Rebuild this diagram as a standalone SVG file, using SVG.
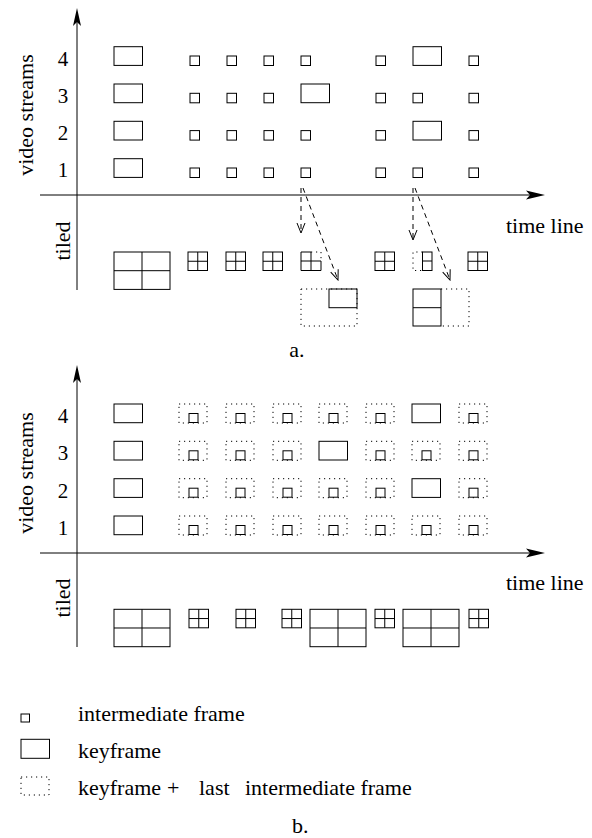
<svg xmlns="http://www.w3.org/2000/svg" width="592" height="838" viewBox="0 0 592 838">
<style>
.f{fill:none;stroke:#000;stroke-width:1}
.d{fill:none;stroke:#000;stroke-width:1;stroke-dasharray:1.2 3.8}
.ax{fill:none;stroke:#000;stroke-width:1}
.da{fill:none;stroke:#000;stroke-width:1;stroke-dasharray:5 4}
text{font-family:'Liberation Serif','DejaVu Serif',serif;font-size:22px;fill:#000}
.n{text-anchor:middle;font-size:21px}
</style>
<defs>
<marker id="ah" viewBox="0 0 12 10" refX="11" refY="5" markerWidth="12" markerHeight="10" markerUnits="userSpaceOnUse" orient="auto">
<path d="M1,1 L11,5 L1,9" fill="none" stroke="#000" stroke-width="1"/>
</marker>
<symbol id="sq" overflow="visible"><rect x="0" y="0" width="9.5" height="9.5" class="f"/></symbol>
<symbol id="kf" overflow="visible"><rect x="0" y="0" width="28.5" height="18.7" class="f"/></symbol>
<symbol id="dq" overflow="visible"><rect x="0" y="0" width="28" height="19" class="d"/><rect x="10" y="9.5" width="9" height="9" class="f"/></symbol>
<symbol id="st" overflow="visible"><rect x="0" y="0" width="19.5" height="18.5" class="f"/><path d="M9.75,0V18.5M0,9.25H19.5" class="f"/></symbol>
<symbol id="bt" overflow="visible"><rect x="0" y="0" width="56" height="37.4" class="f"/><path d="M28,0V37.4M0,18.7H56" class="f"/></symbol>
</defs>

<!-- ===== Part a ===== -->
<g id="axes-a">
<path class="ax" d="M77,290V20"/>
<path d="M77,8 L81,26 L77,22 L73,26 Z" fill="#000"/>
<path class="ax" d="M40,195H533"/>
<path d="M545,195 L526,190.5 L530,195 L526,199.5 Z" fill="#000"/>
</g>
<g id="labels-a">
<text font-family="Liberation Serif, serif" transform="translate(33,115) rotate(-90)" text-anchor="middle">video streams</text>
<text font-family="Liberation Serif, serif" transform="translate(70,241) rotate(-90)" text-anchor="middle">tiled</text>
<text font-family="Liberation Serif, serif" x="506" y="233">time line</text>
<text font-family="Liberation Serif, serif" class="n" x="63" y="66">4</text>
<text font-family="Liberation Serif, serif" class="n" x="63" y="103">3</text>
<text font-family="Liberation Serif, serif" class="n" x="63" y="140">2</text>
<text font-family="Liberation Serif, serif" class="n" x="63" y="177">1</text>
<text font-family="Liberation Serif, serif" x="297" y="357" text-anchor="middle">a.</text>
</g>
<g id="stream4-a">
<use href="#kf" x="114" y="46.7"/>
<use href="#sq" x="190" y="56"/><use href="#sq" x="227" y="56"/><use href="#sq" x="264" y="56"/><use href="#sq" x="301" y="56"/>
<use href="#sq" x="376" y="56"/><use href="#kf" x="413" y="46.7"/><use href="#sq" x="469" y="56"/>
</g>
<g id="stream3-a">
<use href="#kf" x="114" y="84"/>
<use href="#sq" x="190" y="93.3"/><use href="#sq" x="227" y="93.3"/><use href="#sq" x="264" y="93.3"/><use href="#kf" x="301" y="84"/>
<use href="#sq" x="376" y="93.3"/><use href="#sq" x="413" y="93.3"/><use href="#sq" x="469" y="93.3"/>
</g>
<g id="stream2-a">
<use href="#kf" x="114" y="121.3"/>
<use href="#sq" x="190" y="130.6"/><use href="#sq" x="227" y="130.6"/><use href="#sq" x="264" y="130.6"/><use href="#sq" x="301" y="130.6"/>
<use href="#sq" x="376" y="130.6"/><use href="#kf" x="413" y="121.3"/><use href="#sq" x="469" y="130.6"/>
</g>
<g id="stream1-a">
<use href="#kf" x="114" y="158.7"/>
<use href="#sq" x="190" y="168"/><use href="#sq" x="227" y="168"/><use href="#sq" x="264" y="168"/><use href="#sq" x="301" y="168"/>
<use href="#sq" x="376" y="168"/><use href="#sq" x="413" y="168"/><use href="#sq" x="469" y="168"/>
</g>
<g id="tiled-a">
<use href="#bt" x="114" y="252"/>
<use href="#st" x="188" y="252"/><use href="#st" x="226" y="252"/><use href="#st" x="263" y="252"/>
<g id="tile-partial-1">
<path class="f" d="M311,252H301V270.5H321V261M311,252V270.5M301,261H321"/>
<path class="d" d="M311,252H321V261"/>
</g>
<use href="#st" x="375" y="252"/>
<g id="tile-partial-2">
<rect class="f" x="422.5" y="252" width="9.5" height="18.5"/>
<path class="f" d="M422.5,261H432"/>
<path class="d" d="M422.5,252H413V270.5H422.5"/>
</g>
<use href="#st" x="468" y="252"/>
</g>
<g id="result-1">
<rect class="d" x="301" y="289" width="56" height="37"/>
<rect class="f" x="329" y="289" width="28" height="18.7"/>
</g>
<g id="result-2">
<rect class="f" x="413" y="289" width="28" height="37"/>
<path class="f" d="M413,307.7H441"/>
<path class="d" d="M441,289H469V326H441"/>
</g>
<g id="connectors">
<path class="da" d="M301,188V233" marker-end="url(#ah)"/>
<path class="da" d="M303,188L338,280" marker-end="url(#ah)"/>
<path class="da" d="M413,188V240" marker-end="url(#ah)"/>
<path class="da" d="M415,188L450,280" marker-end="url(#ah)"/>
</g>

<!-- ===== Part b ===== -->
<g id="axes-b">
<path class="ax" d="M77,647V377"/>
<path d="M77,365 L81,383 L77,379 L73,383 Z" fill="#000"/>
<path class="ax" d="M40,553H533"/>
<path d="M545,553 L526,548.5 L530,553 L526,557.5 Z" fill="#000"/>
</g>
<g id="labels-b">
<text font-family="Liberation Serif, serif" transform="translate(33,473) rotate(-90)" text-anchor="middle">video streams</text>
<text font-family="Liberation Serif, serif" transform="translate(70,598) rotate(-90)" text-anchor="middle">tiled</text>
<text font-family="Liberation Serif, serif" x="506" y="590">time line</text>
<text font-family="Liberation Serif, serif" class="n" x="63" y="423">4</text>
<text font-family="Liberation Serif, serif" class="n" x="63" y="460">3</text>
<text font-family="Liberation Serif, serif" class="n" x="63" y="497.5">2</text>
<text font-family="Liberation Serif, serif" class="n" x="63" y="535">1</text>
</g>
<g id="stream4-b">
<use href="#kf" x="114" y="404"/>
<use href="#dq" x="179" y="404"/><use href="#dq" x="226" y="404"/><use href="#dq" x="273" y="404"/><use href="#dq" x="319" y="404"/><use href="#dq" x="366" y="404"/>
<use href="#kf" x="412" y="404"/><use href="#dq" x="459" y="404"/>
</g>
<g id="stream3-b">
<use href="#kf" x="114" y="441.3"/>
<use href="#dq" x="179" y="441.3"/><use href="#dq" x="226" y="441.3"/><use href="#dq" x="273" y="441.3"/><use href="#kf" x="319" y="441.3"/>
<use href="#dq" x="366" y="441.3"/><use href="#dq" x="412" y="441.3"/><use href="#dq" x="459" y="441.3"/>
</g>
<g id="stream2-b">
<use href="#kf" x="114" y="478.7"/>
<use href="#dq" x="179" y="478.7"/><use href="#dq" x="226" y="478.7"/><use href="#dq" x="273" y="478.7"/><use href="#dq" x="319" y="478.7"/><use href="#dq" x="366" y="478.7"/>
<use href="#kf" x="412" y="478.7"/><use href="#dq" x="459" y="478.7"/>
</g>
<g id="stream1-b">
<use href="#kf" x="114" y="516"/>
<use href="#dq" x="179" y="516"/><use href="#dq" x="226" y="516"/><use href="#dq" x="273" y="516"/><use href="#dq" x="319" y="516"/>
<use href="#dq" x="366" y="516"/><use href="#dq" x="412" y="516"/><use href="#dq" x="459" y="516"/>
</g>
<g id="tiled-b">
<use href="#bt" x="114" y="609.3"/>
<use href="#st" x="189" y="609.3"/><use href="#st" x="236" y="609.3"/><use href="#st" x="282" y="609.3"/>
<use href="#bt" x="310" y="609.3"/>
<use href="#st" x="375" y="609.3"/>
<use href="#bt" x="403" y="609.3"/>
<use href="#st" x="469" y="609.3"/>
</g>

<!-- ===== Legend ===== -->
<g id="legend">
<rect class="f" x="21" y="714" width="8.5" height="8"/>
<text font-family="Liberation Serif, serif" x="78" y="721">intermediate frame</text>
<rect class="f" x="21" y="739.3" width="28.5" height="19"/>
<text font-family="Liberation Serif, serif" x="78" y="758">keyframe</text>
<rect class="d" x="21" y="777" width="28" height="18"/>
<text font-family="Liberation Serif, serif" y="795"><tspan x="78">keyframe</tspan><tspan x="167">+</tspan><tspan x="199">last</tspan><tspan x="245">intermediate frame</tspan></text>
<text font-family="Liberation Serif, serif" x="292" y="833">b.</text>
</g>
</svg>
